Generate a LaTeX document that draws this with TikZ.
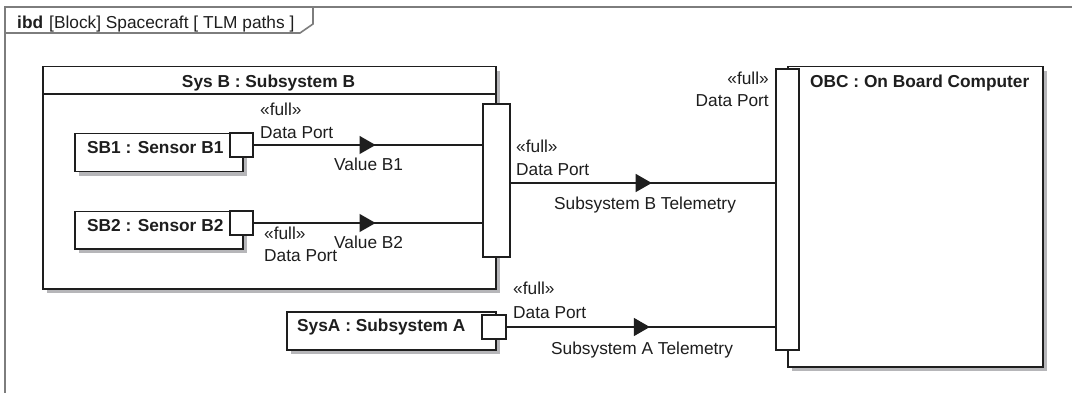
\documentclass[tikz,border=0pt]{standalone}
\usepackage{fontspec}
\setmainfont{Liberation Sans}
\usetikzlibrary{shadows,arrows.meta,decorations.markings}
\definecolor{framegray}{RGB}{125,125,125}
\definecolor{shadowgray}{RGB}{182,182,185}
\definecolor{ink}{RGB}{30,30,30}
\begin{document}
\begin{tikzpicture}[x=1pt,y=-1pt,
  every node/.style={font=\fontsize{17.3}{20}\selectfont, text=ink},
  boldtext/.style={font=\fontsize{17.3}{20}\selectfont\bfseries},
  block/.style={draw=ink, line width=1.5pt, fill=white, rectangle, inner sep=0pt,
    drop shadow={shadow xshift=4pt, shadow yshift=-4pt, fill=shadowgray, opacity=1}},
  portbox/.style={draw=ink, line width=1.3pt, fill=white, rectangle, inner sep=0pt},
  lbl/.style={inner sep=0pt, text height=12.4pt, text depth=0pt},
  frameline/.style={draw=framegray, line width=1.6pt},
  conn/.style={draw=ink, line width=1.2pt, postaction={decorate},
    decoration={markings, mark=at position 0.533 with {\arrow{Triangle[length=16pt,width=18pt]}}}},
]
\useasboundingbox (0,0) rectangle (1072,393);
\fill[white] (0,0) rectangle (1072,393);

% frame and header tab
\draw[frameline] (1072,7) -- (5,7) -- (5,393);
\draw[frameline] (5,33) -- (300,33) -- (313,24) -- (313,7);
\node[lbl, anchor=west] (hdr) at (17,22) {\textbf{ibd}\hspace{0.35em}[Block] Spacecraft [ TLM paths ]};

% Subsystem B
\node[block, minimum width=453, minimum height=222, anchor=north west] (sysb) at (42,66) {};
\coordinate (sysbsep) at (0,94);
\draw[ink, line width=1.5pt] (sysb.west |- sysbsep) -- (sysb.east |- sysbsep);
\node[lbl, boldtext] (sysbt) at (268.5,81) {Sys B : Subsystem B};
\node[portbox, minimum width=27, minimum height=153] (bp) at (496.5,180.5) {};

% SB1
\node[block, minimum width=168, minimum height=38, anchor=north west] (sb1) at (74,133) {};
\node[lbl, boldtext, anchor=west] (sb1t) at (87,147) {SB1 : Sensor B1};
\node[portbox, minimum width=23, minimum height=24] (sb1p) at (241.5,145) {};
\draw[conn] (sb1p.east) -- (sb1p.east -| bp.west);
\node[lbl, anchor=west] (sb1f) at (260,109) {«full»};
\node[lbl, anchor=west] (sb1d) at (260,132) {Data Port};
\node[lbl, anchor=west] (sb1v) at (334,164) {Value B1};

% SB2
\node[block, minimum width=168, minimum height=37, anchor=north west] (sb2) at (74,211) {};
\node[lbl, boldtext, anchor=west] (sb2t) at (87,225) {SB2 : Sensor B2};
\node[portbox, minimum width=23, minimum height=24] (sb2p) at (241.5,223) {};
\draw[conn] (sb2p.east) -- (sb2p.east -| bp.west);
\node[lbl, anchor=west] (sb2f) at (264,233) {«full»};
\node[lbl, anchor=west] (sb2d) at (264,255) {Data Port};
\node[lbl, anchor=west] (sb2v) at (334,242) {Value B2};

% Subsystem A
\node[block, minimum width=209, minimum height=38, anchor=north west] (sysa) at (286,311) {};
\node[lbl, boldtext, anchor=west] (sysat) at (297,325) {SysA : Subsystem A};
\node[portbox, minimum width=24, minimum height=24] (sap) at (494,327) {};

% OBC
\node[block, minimum width=255, minimum height=300, anchor=north west] (obc) at (787,66) {};
\node[lbl, boldtext, anchor=west] (obct) at (810,81) {OBC : On Board Computer};
\node[portbox, minimum width=23, minimum height=281] (obcp) at (787.5,209.5) {};
\node[lbl, anchor=east] (obcf) at (769,78) {«full»};
\node[lbl, anchor=east] (obcd) at (769,100) {Data Port};

% telemetry connectors
\coordinate (btel) at (0,183);
\draw[conn] (bp.east |- btel) -- (obcp.west |- btel);
\node[lbl, anchor=west] (bpf) at (516,146) {«full»};
\node[lbl, anchor=west] (bpd) at (516,169) {Data Port};
\node[lbl, anchor=west] (btl) at (554,203) {Subsystem B Telemetry};

\draw[conn] (sap.east) -- (sap.east -| obcp.west);
\node[lbl, anchor=west] (saf) at (513,288) {«full»};
\node[lbl, anchor=west] (sad) at (513,312) {Data Port};
\node[lbl, anchor=west] (atl) at (551,348) {Subsystem A Telemetry};
\end{tikzpicture}
\end{document}
